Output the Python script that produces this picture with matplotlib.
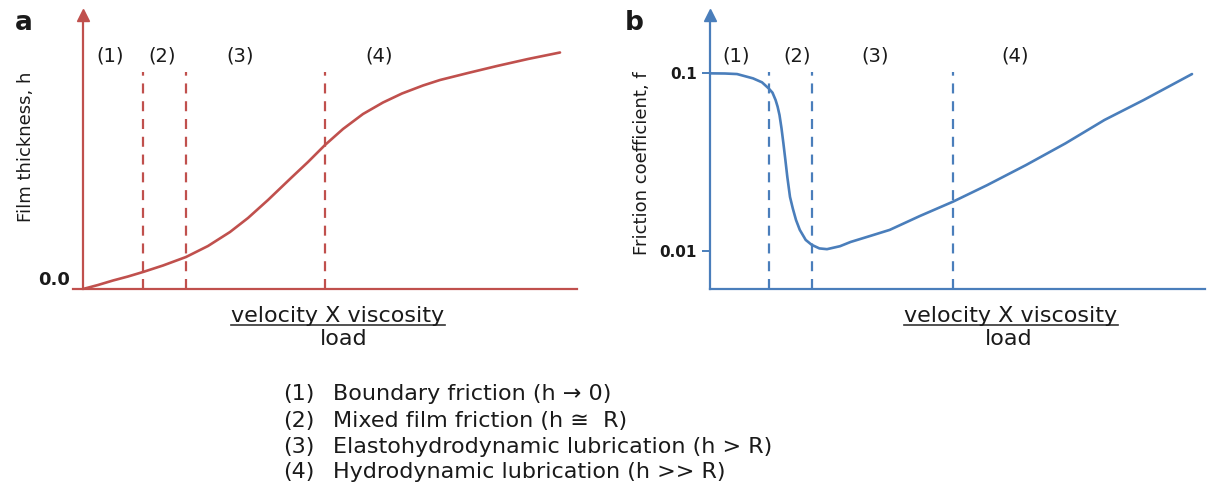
import matplotlib
matplotlib.use("Agg")
import matplotlib.pyplot as plt
from matplotlib.lines import Line2D

plt.rcParams['font.family'] = ['DejaVu Sans']

# (a) film thickness vs. velocity*viscosity/load (arbitrary units)
film_x = [0, 15, 30, 45, 60, 80, 103, 125, 147, 165, 185, 208, 225, 242,
          260, 280, 300, 319, 340, 357, 385, 414, 445, 477]
film_h = [0, 4, 8.5, 12.5, 17, 23.5, 32, 43, 57, 71, 89, 111, 127, 144,
          160, 175, 186.5, 195.5, 203.5, 209, 216, 223, 230, 236.5]
film_bounds = [60, 103, 242]

# (b) Stribeck curve: friction coefficient vs. velocity*viscosity/load
fric_x = [0, 15, 27, 43, 52, 58.6, 62.5, 65.6, 67.6, 69.5, 71.5, 73.4, 75.4,
          77.3, 80, 82.8, 86, 89.8, 95.7, 101.6, 109.4, 117, 130, 140.6, 160,
          179.7, 210, 243, 277, 316, 355.5, 394.5, 433.6, 460, 482]
fric_f = [0.100, 0.0998, 0.0991, 0.0937, 0.089, 0.0823, 0.0778, 0.0707,
          0.0649, 0.0582, 0.0490, 0.0403, 0.0324, 0.0261, 0.0201, 0.0173,
          0.0149, 0.0131, 0.0115, 0.0108, 0.0103, 0.0102, 0.0106, 0.0112,
          0.0121, 0.0131, 0.0157, 0.0189, 0.0234, 0.0304, 0.0403, 0.0546,
          0.0707, 0.085, 0.0991]
fric_bounds = [58.6, 101.6, 243]
fric_ticks = [0.1, 0.01]
fric_ticklabels = ['0.1', '0.01']

regions = ['(1)', '(2)', '(3)', '(4)']
regime_text = ['Boundary friction (h \u2192 0)',
               'Mixed film friction (h \u2245  R)',
               'Elastohydrodynamic lubrication (h > R)',
               'Hydrodynamic lubrication (h >> R)']

W, H = 1209, 486
RED = '#C0504D'
BLUE = '#4A7EBB'
INK = '#1a1a1a'


def fx(x):
    return x / W


def fy(y):
    return 1 - y / H


fig = plt.figure(figsize=(W / 100, H / 100), dpi=100)

# ---- panel a ----
axa = fig.add_axes([fx(73), fy(289), fx(577) - fx(73), fy(15) - fy(289)])
axa.set_xlim(-10, 494)
axa.set_ylim(0, 274)
for s in ['top', 'right']:
    axa.spines[s].set_visible(False)
axa.spines['left'].set_position(('data', 0))
for s in ['left', 'bottom']:
    axa.spines[s].set_color(RED)
    axa.spines[s].set_linewidth(1.6)
axa.set_xticks([])
axa.set_yticks([0], ['0.0'])
axa.tick_params(axis='y', length=0, pad=9.5, labelsize=13, labelcolor=INK)
for lab in axa.get_yticklabels():
    lab.set_fontweight('bold')
    lab.set_va('bottom')
axa.plot(film_x, film_h, color=RED, lw=1.9, solid_capstyle='round',
         solid_joinstyle='round')
for b in film_bounds:
    axa.plot([b, b], [0, 217], color=RED, lw=1.6, ls=(0, (4.5, 3.5)))
# arrow head on the vertical axis
axa.plot([0], [1], marker='^', ms=8, color=RED,
         transform=axa.get_xaxis_transform(), clip_on=False)

# ---- panel b ----
axb = fig.add_axes([fx(710), fy(289), fx(1205) - fx(710), fy(15) - fy(289)])
axb.set_yscale('log')
axb.set_xlim(0, 495)
axb.set_ylim(10 ** -2.216, 10 ** -0.671)
for s in ['top', 'right']:
    axb.spines[s].set_visible(False)
for s in ['left', 'bottom']:
    axb.spines[s].set_color(BLUE)
    axb.spines[s].set_linewidth(1.6)
axb.set_xticks([])
axb.set_yticks(fric_ticks, fric_ticklabels)
axb.minorticks_off()
axb.tick_params(axis='y', length=6, width=1.4, color=BLUE, pad=3.5,
                labelsize=11, labelcolor=INK)
for lab in axb.get_yticklabels():
    lab.set_fontweight('bold')
axb.plot(fric_x, fric_f, color=BLUE, lw=1.9, solid_capstyle='round',
         solid_joinstyle='round')
for b in fric_bounds:
    axb.plot([b, b], [10 ** -2.216, 0.1016], color=BLUE, lw=1.6,
             ls=(0, (4.5, 3.5)))
axb.plot([0], [1], marker='^', ms=8, color=BLUE, transform=axb.transAxes,
         clip_on=False)

# panel letters
fig.text(fx(15), fy(30), 'a', fontsize=19, fontweight='bold', color=INK,
         va='baseline', ha='left')
fig.text(fx(625), fy(30), 'b', fontsize=19, fontweight='bold', color=INK,
         va='baseline', ha='left')

# y labels
fig.text(fx(26), fy(147), 'Film thickness, h', rotation=90, fontsize=13,
         color=INK, ha='center', va='center')
fig.text(fx(642), fy(163), 'Friction coefficient, f', rotation=90,
         fontsize=13, color=INK, ha='center', va='center')

# regime numbers above each panel
for lab, xc in zip(regions, [110, 162, 240, 379]):
    fig.text(fx(xc), fy(56), lab, fontsize=14, color=INK, ha='center',
             va='center')
for lab, xc in zip(regions, [736, 797, 875, 1015]):
    fig.text(fx(xc), fy(56), lab, fontsize=14, color=INK, ha='center',
             va='center')

# x labels as a fraction: velocity X viscosity over load
renderer = fig.canvas.get_renderer()
for xc, xl in [(338, 344), (1011, 1009)]:
    t = fig.text(fx(xc), fy(322), 'velocity X viscosity', fontsize=16,
                 color=INK, ha='center', va='baseline')
    bb = t.get_window_extent(renderer)
    fig.add_artist(Line2D([bb.x0 / W, bb.x1 / W], [fy(325), fy(325)],
                          color='#333333', lw=1.2))
    fig.text(fx(xl), fy(345), 'load', fontsize=16, color=INK, ha='center',
             va='baseline')

# regime legend
for i, (num, txt) in enumerate(zip(regions, regime_text)):
    yb = [400, 427, 453, 478][i]
    fig.text(fx(283), fy(yb), num, fontsize=16, color=INK, va='baseline')
    fig.text(fx(333), fy(yb), txt, fontsize=16, color=INK, va='baseline')

fig.savefig('out.png', dpi=100)
